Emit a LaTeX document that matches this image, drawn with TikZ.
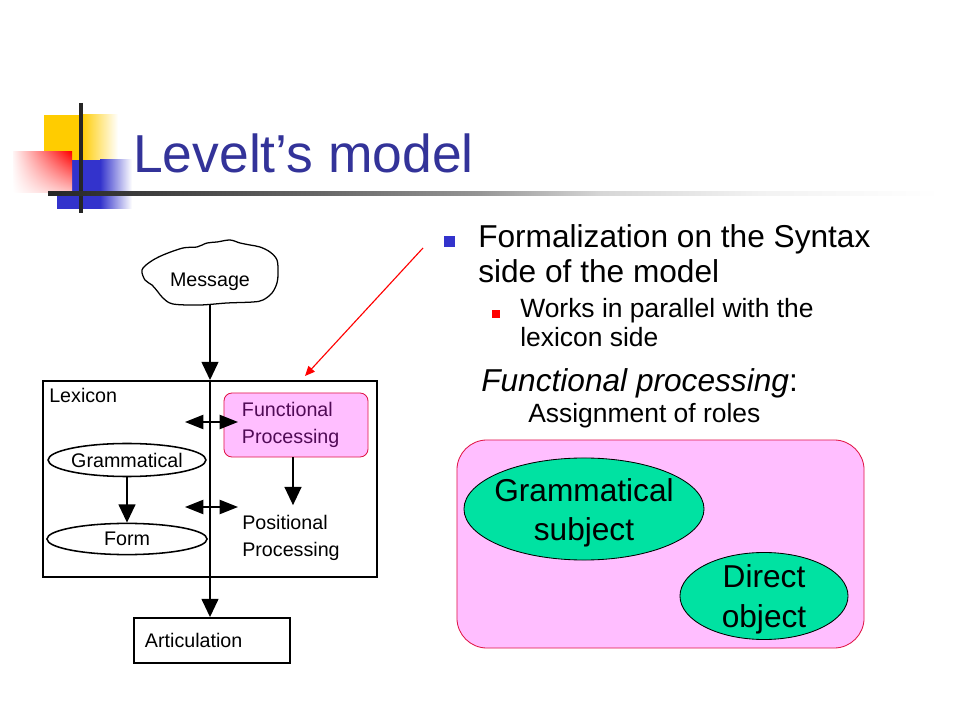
\documentclass[tikz,border=0pt]{standalone}
\usepackage{fontspec}
\setmainfont{Liberation Sans}
\usetikzlibrary{arrows.meta,positioning,shapes.geometric,shadings}

\definecolor{titleblue}{RGB}{51,51,153}
\definecolor{bulletblue}{RGB}{51,51,204}
\definecolor{deckyellow}{RGB}{255,204,0}
\definecolor{rolepink}{RGB}{255,190,255}
\definecolor{roleedge}{RGB}{225,20,70}
\definecolor{rolegreen}{RGB}{0,226,162}
\definecolor{fppurple}{RGB}{80,10,85}

% fading rule under the title
\pgfdeclarehorizontalshading{rulefade}{100bp}{color(0bp)=(black!85); color(25bp)=(black!85);
  color(40bp)=(black!60); color(49bp)=(black!42); color(56bp)=(black!16);
  color(65bp)=(black!5); color(75bp)=(white); color(100bp)=(white)}

\begin{document}
\begin{tikzpicture}[x=0.025cm,y=-0.025cm,
		lbl/.style={font=\fontsize{14}{19}\selectfont, inner sep=0, align=left},
		big/.style={font=\fontsize{22.5}{25.5}\selectfont, inner sep=0, align=left},
		small/.style={font=\fontsize{18.8}{21.3}\selectfont, inner sep=0, align=left},
		box/.style={draw, line width=1.3pt, inner sep=0},
		oval/.style={ellipse, draw, line width=1.1pt, inner sep=0, font=\fontsize{14}{19}\selectfont},
		role/.style={ellipse, draw, line width=0.6pt, fill=rolegreen, inner sep=0},
		roletext/.style={align=center, inner sep=0, font=\fontsize{22.5}{28}\selectfont},
		arr/.style={line width=1.3pt, -{Triangle[length=13pt,width=12pt]}},
		dbl/.style={line width=1.3pt, {Triangle[length=13pt,width=10pt]}-{Triangle[length=13pt,width=10pt]}}]

	\useasboundingbox (0,0) rectangle (960,720);
	\fill[white] (0,0) rectangle (960,720);

	% corner decoration
	\fill[deckyellow] (44,115) rectangle (81,160);
	\shade[left color=deckyellow, right color=white] (81,115) rectangle (118,160);
	\fill[bulletblue] (57,160) rectangle (100,209);
	\shade[left color=bulletblue, right color=white] (100,160) rectangle (132,209);
	\shade[upper left=red!4, upper right=red, lower left=white, lower right=red!22] (13,152) rectangle (72,193);
	\draw[line width=2.2pt, black!85] (81,103) -- (81,213);
	\shade[shading=rulefade] (48,192) rectangle (940,196);

	\node[anchor=base west, inner sep=0, text=titleblue, font=\fontsize{38}{44}\selectfont] (title) at (133,173) {Levelt’s model};

	% bullets on the right
	\fill[bulletblue] (444,236) rectangle (455,247);
	\node[big, anchor=base west] (formal) at (478,283) {Formalization on the Syntax\\side of the model};
	\fill[red] (492,310) rectangle (500,318);
	\node[small, anchor=base west] (works) at (520,347) {Works in parallel with the\\lexicon side};
	\node[big, anchor=base west] (fproc) at (481,392) {\itshape Functional processing\/\upshape:};
	\node[small, anchor=base west] (assign) at (528,423) {Assignment of roles};

	% roles
	\node[draw=roleedge, line width=0.6pt, fill=rolepink, rounded corners=0.75cm,
		minimum width=10.175cm, minimum height=5.2cm, inner sep=0] (roles) at (660.5,544) {};
	\node[role, minimum width=6cm, minimum height=2.55cm,
		label={[roletext, yshift=-0.1cm]center:Grammatical\\subject}] (subj) at (584,509) {};
	\node[role, minimum width=4.2cm, minimum height=2.175cm,
		label={[roletext, yshift=-0.08cm]center:Direct\\object}] (obj) at (764,596) {};

	% the model
	\node[lbl, minimum height=1.15cm] (msg) at (210,282) {Message};
	\draw[line width=0.9pt] plot[smooth cycle, tension=0.55] coordinates {
		(142,270) (150,262) (163,255) (183,248) (197,247) (207,243) (217,242) (230,240)
		(240,243) (250,245) (260,247) (270,252) (277,260) (278,273) (277,283) (272,293)
		(263,300) (253,302) (227,303) (200,305) (173,304) (163,298) (158,292) (152,285) (145,280)};

	\node[box, minimum width=8.35cm, minimum height=4.9cm] (lex) at (210,479) {};
	\node[lbl, anchor=base west] (lexlbl) at (49,403) {Lexicon};
	\draw[line width=1.3pt] (lex.north) -- (lex.south);
	\draw[arr] (msg.south) -- (lex.north);

	\node[draw=roleedge, line width=0.6pt, fill=rolepink, rounded corners=0.2cm, minimum width=3.6cm,
		minimum height=1.6cm, text width=2.7cm, inner xsep=0.45cm, inner ysep=0, lbl, text=fppurple] (fp) at (296,425)
		{Functional\\Processing};
	\node[lbl, anchor=west] (pos) at (242,538) {Positional\\Processing};

	\node[oval, minimum width=3.9cm, minimum height=0.825cm] (gram) at (127,460) {Grammatical};
	\node[oval, minimum width=4cm, minimum height=0.78cm] (form) at (127,539) {Form};
	\draw[arr] (gram.south) -- (form.north);
	\draw[arr, shorten >=0.25cm] (fp.south -| 293,0) -- (pos.north -| 293,0);

	\coordinate (ltop) at (185,422);
	\coordinate (rtop) at (238,422);
	\coordinate (lbot) at (185,507);
	\coordinate (rbot) at (238,507);
	\draw[dbl] (ltop) -- (rtop);
	\draw[dbl] (lbot) -- (rbot);

	\node[box, minimum width=3.9cm, minimum height=1.125cm, text width=3.35cm, inner xsep=0.275cm, lbl]
		(art) at (212,640.5) {Articulation};
	\draw[arr] (lex.south) -- (lex.south |- art.north);

	% pointer from the text
	\coordinate (ptr) at (423,248);
	\coordinate (ptrtip) at (305,376);
	\draw[red, line width=0.8pt, -{Triangle[length=7pt,width=6pt]}] (ptr) -- (ptrtip);

\end{tikzpicture}
\end{document}
